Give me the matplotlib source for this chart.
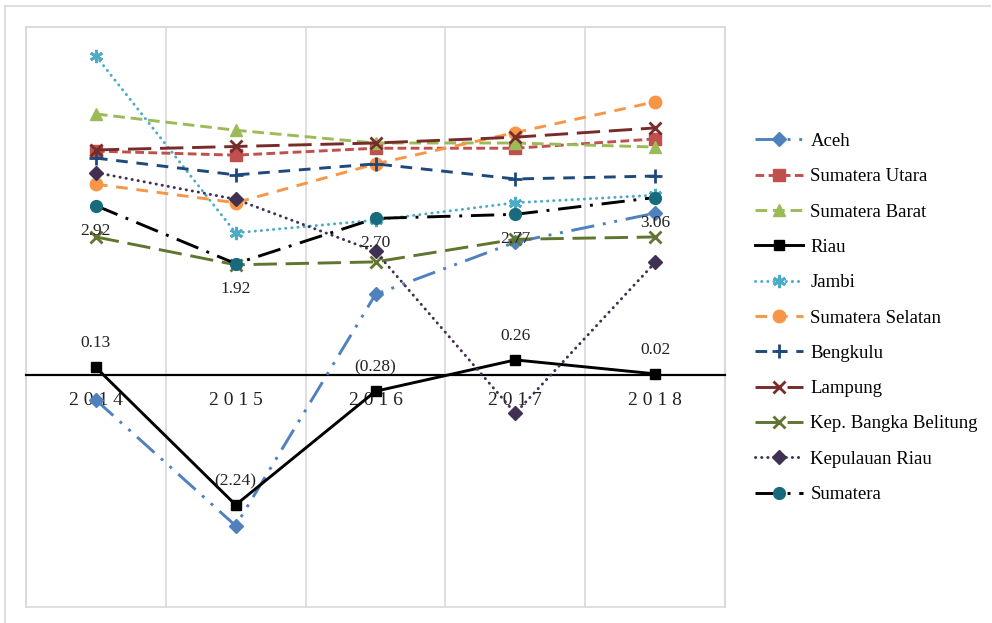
import matplotlib
matplotlib.use("Agg")
import matplotlib.pyplot as plt
from matplotlib.patches import Rectangle
from matplotlib.lines import Line2D

plt.rcParams['font.family'] = ['Liberation Serif', 'DejaVu Serif']

years = ['2014', '2015', '2016', '2017', '2018']

aceh = [-0.43, -2.60, 1.39, 2.29, 2.79]
sumatera_utara = [3.86, 3.79, 3.91, 3.91, 4.07]
sumatera_barat = [4.50, 4.22, 4.00, 4.00, 3.93]
riau = [0.13, -2.24, -0.28, 0.26, 0.02]
jambi = [5.50, 2.45, 2.67, 2.97, 3.10]
sumatera_selatan = [3.29, 2.97, 3.64, 4.18, 4.71]
bengkulu = [3.74, 3.45, 3.64, 3.38, 3.43]
lampung = [3.88, 3.94, 4.00, 4.10, 4.26]
bangka_belitung = [2.38, 1.90, 1.95, 2.34, 2.38]
kepulauan_riau = [3.49, 3.03, 2.13, -0.66, 1.94]
sumatera = [2.92, 1.92, 2.70, 2.77, 3.06]

# (label, values, line colour, linestyle, marker, marker colour, marker size)
series = [
    ('Aceh', aceh, '#4F81BD', (0, (8, 3, 1, 3, 1, 3)), 'D', '#4F81BD', 7.5),
    ('Sumatera Utara', sumatera_utara, '#C0504D', (0, (3, 1.5)), 's', '#C0504D', 8.5),
    ('Sumatera Barat', sumatera_barat, '#9BBB59', (0, (4, 2)), '^', '#9BBB59', 9),
    ('Riau', riau, '#000000', '-', 's', '#000000', 7.5),
    ('Jambi', jambi, '#4BACC6', (0, (0.1, 2)), (6, 2, 0), '#4BACC6', 9.5),
    ('Sumatera Selatan', sumatera_selatan, '#F79646', (0, (4, 3)), 'o', '#F79646', 9),
    ('Bengkulu', bengkulu, '#1F497D', (0, (4, 3)), '+', '#1F497D', 10.5),
    ('Lampung', lampung, '#772C2A', (0, (8, 3)), 'x', '#772C2A', 9),
    ('Kep. Bangka Belitung', bangka_belitung, '#5F7530', (0, (8, 3)), 'x', '#5F7530', 9),
    ('Kepulauan Riau', kepulauan_riau, '#403152', (0, (0.1, 2)), 'D', '#403152', 7.5),
    ('Sumatera', sumatera, '#000000', (0, (8, 3, 1, 3)), 'o', '#176B7C', 8.5),
]


def fmt(v):
    return f"{v:.2f}" if v >= 0 else f"({abs(v):.2f})"


fig = plt.figure(figsize=(9.92, 6.23), dpi=100)
fig.patch.set_facecolor('white')

# light outer frame (top and left edges)
fig.add_artist(Line2D([4.5 / 992, 990 / 992], [1 - 5.5 / 623, 1 - 5.5 / 623],
                      transform=fig.transFigure, color='#D9D9D9', lw=1.2))
fig.add_artist(Line2D([4.5 / 992, 4.5 / 992], [1 - 5.5 / 623, 0],
                      transform=fig.transFigure, color='#D9D9D9', lw=1.2))

ax = fig.add_axes([26 / 992, 16 / 623, 699 / 992, 580 / 623])
ax.set_xlim(-0.5, 4.5)
ax.set_ylim(-4, 6)

x = list(range(len(years)))

for name, vals, col, ls, mk, mcol, ms in series:
    ax.plot(x, vals, color=col, linestyle=ls, lw=2.1, marker=mk,
            markersize=ms, markerfacecolor=mcol, markeredgecolor=mcol,
            markeredgewidth=2 if mk in ('x', '+', (6, 2, 0)) else 1,
            dash_capstyle='round' if ls == (0, (0.1, 2)) else 'butt',
            label=name, zorder=3)

# value labels: Sumatera below points, Riau above points
for i, v in enumerate(sumatera):
    ax.annotate(fmt(v), (i, v), xytext=(0, -25), textcoords='offset pixels',
                ha='center', va='center', fontsize=12.5, color='#222222', zorder=5)
for i, v in enumerate(riau):
    ax.annotate(fmt(v), (i, v), xytext=(0, 24), textcoords='offset pixels',
                ha='center', va='center', fontsize=12.5, color='#222222', zorder=5)

# frame and gridlines
for s in ('top', 'left', 'right'):
    ax.spines[s].set_color('#D9D9D9')
    ax.spines[s].set_linewidth(1.2)
ax.spines['bottom'].set_position(('data', 0))
ax.spines['bottom'].set_color('black')
ax.spines['bottom'].set_linewidth(1.6)
ax.spines['bottom'].set_zorder(2.5)
ax.add_patch(Rectangle((0, 0), 1, 1, transform=ax.transAxes, fill=False,
                       edgecolor='#D9D9D9', lw=1.2, clip_on=False, zorder=0))

ax.set_xticks([0.5, 1.5, 2.5, 3.5], minor=True)
ax.grid(which='minor', axis='x', color='#D9D9D9', lw=1.2)
ax.tick_params(which='both', length=0)
ax.set_xticks(x)
ax.set_xticklabels([' '.join(y) for y in years], fontsize=14, color='#222222')
ax.tick_params(axis='x', pad=12)
ax.set_yticks([])

ax.legend(loc='upper left', bbox_to_anchor=(738 / 992, 1 - 116 / 623),
          bbox_transform=fig.transFigure, frameon=False, fontsize=13.5,
          handlelength=2.56, handletextpad=0.4, labelspacing=0.97)

fig.savefig('out.png', dpi=100)
